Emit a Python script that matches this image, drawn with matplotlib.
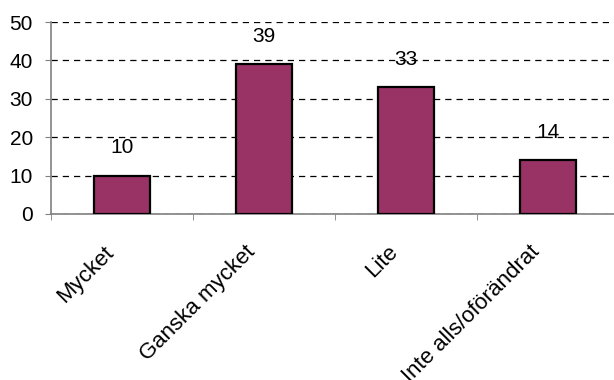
import matplotlib

matplotlib.use("Agg")
import matplotlib.pyplot as plt
import matplotlib.transforms as mtransforms
import numpy as np

categories = ["Mycket", "Ganska mycket", "Lite", "Inte alls/oförändrat"]
values = [10, 39, 33, 14]
y_ticks = [0, 10, 20, 30, 40, 50]

plt.rcParams["font.family"] = ["Liberation Sans", "DejaVu Sans"]

fig = plt.figure(figsize=(6.14, 3.80), dpi=100)
ax = fig.add_axes([0.083, 0.437, 0.925, 0.505])

x = np.arange(len(categories))
ax.bar(x, values, width=0.4, color="#993366", edgecolor="black", linewidth=1.6, zorder=3)

for xi, v in zip(x, values):
    ax.annotate(str(v), (xi, v), xytext=(0, 20), textcoords="offset points",
                ha="center", va="center", fontsize=15, zorder=4)

ax.set_xlim(-0.5, len(categories) - 0.5)
ax.set_ylim(0, 50)
ax.set_yticks(y_ticks)
ax.tick_params(axis="y", labelsize=15, length=4.5, color="#808080", pad=8.5)

ax.set_xticks(x)
ax.set_xticklabels(categories, rotation=45, ha="right", rotation_mode="anchor", fontsize=16)
ax.tick_params(axis="x", which="major", length=0, pad=20)
shift = mtransforms.ScaledTranslation(-19 / 100, 0, fig.dpi_scale_trans)
for lbl in ax.get_xticklabels():
    lbl.set_transform(lbl.get_transform() + shift)
ax.set_xticks(np.arange(len(categories)) - 0.5, minor=True)
ax.tick_params(axis="x", which="minor", length=4.5, color="#808080")

ax.yaxis.grid(True, linestyle=(0, (5, 4)), color="black", linewidth=0.9, zorder=0)
for s in ["top", "right"]:
    ax.spines[s].set_visible(False)
for s in ["left", "bottom"]:
    ax.spines[s].set_color("#808080")
    ax.spines[s].set_linewidth(1.2)

fig.savefig("out.png", dpi=100)
